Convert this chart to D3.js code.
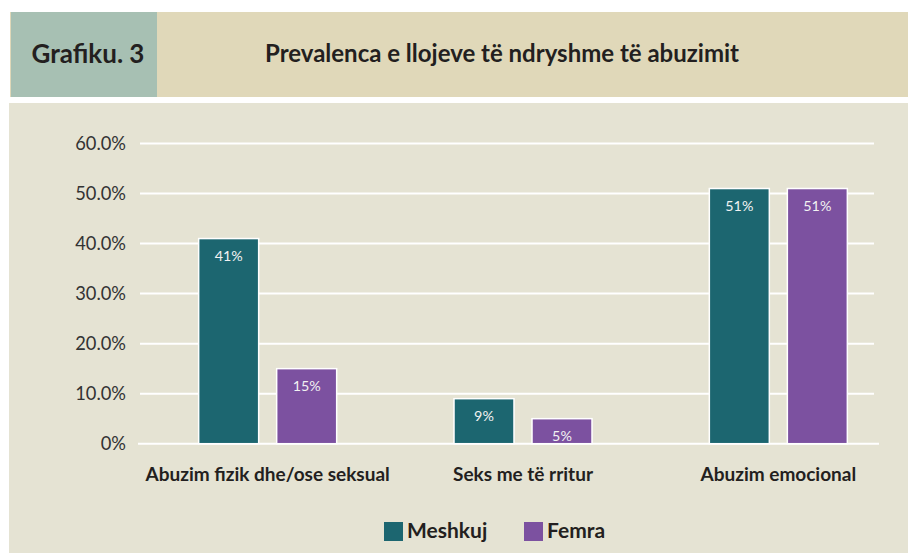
<!DOCTYPE html>
<html><head><meta charset="utf-8">
<script src="https://cdn.jsdelivr.net/npm/d3@7"></script>
<style>
html,body{margin:0;padding:0;background:#fff;}
svg{display:block;font-family:Lato,"Open Sans",sans-serif;}
</style></head>
<body>
<svg id="c" width="908" height="553"></svg>
<script>
const figureLabel = "Grafiku. 3";
const chartTitle = "Prevalenca e llojeve të ndryshme të abuzimit";
const categories = ["Abuzim fizik dhe/ose seksual", "Seks me të rritur", "Abuzim emocional"];
const seriesNames = ["Meshkuj", "Femra"];
const meshkujValues = [41, 9, 51];
const femraValues = [15, 5, 51];
const yTicks = [0, 10, 20, 30, 40, 50, 60];
const colors = {Meshkuj: "#1c6670", Femra: "#7c51a0"};

const svg = d3.select("#c");
// header boxes
svg.append("rect").attr("x", 10).attr("y", 12).attr("width", 898).attr("height", 85).attr("fill", "#e0d8b9");
svg.append("rect").attr("x", 11).attr("y", 12).attr("width", 146).attr("height", 85).attr("fill", "#a7c0b3");
svg.append("text").attr("x", 88).attr("y", 62.5).attr("text-anchor", "middle")
  .attr("font-size", 26).attr("font-weight", 700).attr("fill", "#231f20").text(figureLabel);
svg.append("text").attr("x", 502).attr("y", 61.5).attr("text-anchor", "middle")
  .attr("font-size", 24).attr("font-weight", 700).attr("fill", "#231f20").text(chartTitle);
// chart background
svg.append("rect").attr("x", 9).attr("y", 103).attr("width", 899).attr("height", 450).attr("fill", "#e5e3d3");

const y = d3.scaleLinear().domain([0, 60]).range([443.7, 143.5]);
const x0 = d3.scaleBand().domain(categories).range([140, 906]).paddingInner(0).paddingOuter(0);
const x1 = d3.scaleBand().domain(seriesNames).range([0, 138]).paddingInner(0.231).paddingOuter(0);

// grid
const grid = svg.append("g");
grid.selectAll("line").data(yTicks).join("line")
  .attr("x1", d => d === 0 ? 138 : 140).attr("x2", d => d === 0 ? 879 : 874)
  .attr("y1", d => y(d)).attr("y2", d => y(d))
  .attr("stroke", "#fff").attr("stroke-width", 2);

// y axis labels
const yAxis = d3.axisLeft(y).tickValues(yTicks).tickSize(0).tickPadding(0)
  .tickFormat(d => d === 0 ? "0%" : d.toFixed(1) + "%");
const ya = svg.append("g").attr("transform", "translate(126,0)").call(yAxis);
ya.select(".domain").remove();
ya.selectAll("text").attr("font-family", "Lato, sans-serif").attr("font-size", 18.3).attr("fill", "#333");

// bars
const rows = categories.map((c, i) => ({cat: c, vals: [
  {s: "Meshkuj", v: meshkujValues[i]}, {s: "Femra", v: femraValues[i]}]}));
const groups = svg.selectAll("g.grp").data(rows).join("g").attr("class", "grp")
  .attr("transform", d => `translate(${x0(d.cat) + x0.bandwidth() / 2 - 69},0)`);
groups.selectAll("rect").data(d => d.vals).join("rect")
  .attr("x", d => x1(d.s)).attr("width", x1.bandwidth())
  .attr("y", d => y(d.v)).attr("height", d => y(0) - y(d.v))
  .attr("fill", d => colors[d.s]).attr("stroke", "#fff").attr("stroke-width", 1.5);
groups.selectAll("text").data(d => d.vals).join("text")
  .attr("x", d => x1(d.s) + x1.bandwidth() / 2).attr("y", d => y(d.v) + 22)
  .attr("text-anchor", "middle").attr("font-size", 14.3).attr("fill", "#f2f2f2")
  .text(d => d.v + "%");

// category labels
const xAxis = d3.axisBottom(x0).tickSize(0).tickPadding(0);
const xa = svg.append("g").attr("transform", "translate(0,467.5)").call(xAxis);
xa.select(".domain").remove();
xa.selectAll("text").attr("font-family", "Lato, sans-serif").attr("font-size", 19)
  .attr("font-weight", 700).attr("fill", "#231f20");

// legend
const legendX = d3.scalePoint().domain(seriesNames).range([384, 524]);
const lg = svg.selectAll("g.leg").data(seriesNames).join("g").attr("class", "leg")
  .attr("transform", d => `translate(${legendX(d)},522)`);
lg.append("rect").attr("width", 19).attr("height", 19).attr("fill", d => colors[d]);
lg.append("text").attr("x", 23).attr("y", 16).attr("font-size", 21).attr("font-weight", 700)
  .attr("fill", "#231f20").text(d => d);
</script>
</body></html>
